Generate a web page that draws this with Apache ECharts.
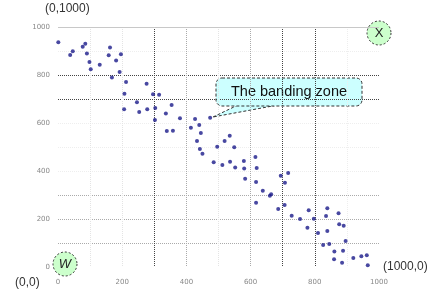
<!DOCTYPE html>
<html>
<head>
<meta charset="utf-8">
<script src="https://cdn.jsdelivr.net/npm/echarts@6/dist/echarts.min.js"></script>
<style>
  html, body { margin: 0; padding: 0; background: #fff; }
  #main { width: 436px; height: 297px; }
</style>
</head>
<body>
<div id="main"></div>
<script>
// scatter points
const xs = [1, 38, 46, 77, 85, 90, 98, 102, 130, 162, 158, 196, 181, 192, 168, 212, 207, 276, 296, 315,
  246, 253, 206, 278, 303, 354, 302, 336, 380, 339, 358, 427, 440, 414, 474, 445, 433, 442, 450, 496,
  535, 519, 549, 485, 512, 536, 552, 579, 580, 583, 615, 619, 617, 717, 694, 707, 638, 660, 664, 617,
  686, 706, 728, 754, 781, 797, 777, 810, 839, 835, 874, 839, 876, 890, 896, 826, 845, 861, 888, 860,
  885, 920, 945, 962, 965];
const ys = [936, 883, 899, 918, 930, 890, 854, 824, 843, 915, 882, 886, 860, 813, 790, 771, 722, 764, 720, 718,
  686, 646, 657, 657, 663, 675, 612, 640, 620, 567, 568, 617, 592, 580, 622, 558, 525, 492, 472, 501,
  547, 525, 499, 436, 425, 439, 415, 442, 410, 368, 458, 412, 354, 392, 380, 351, 318, 297, 303, 268,
  242, 258, 214, 200, 236, 201, 164, 142, 245, 213, 224, 150, 178, 172, 108, 92, 96, 65, 68, 32,
  18, 38, 45, 49, 7];
const tickLabels = ['0', '200', '400', '600', '800', '1000'];

// grid line shades for 0,100,...,1000
const xGridColors = ['transparent', '#e4e4e4', '#e4e4e4', '#444', '#aaa', '#e4e4e4', '#aaa', '#444', '#444', '#eee', 'transparent'];
const yGridColors = ['transparent', '#aaa', '#aaa', '#aaa', '#eee', '#eee', '#eee', '#444', '#444', '#eee', 'transparent'];

const points = xs.map((x, i) => [x, ys[i]]);

const labelFmt = v => (v % 200 === 0 ? tickLabels[v / 200] : '');

const chart = echarts.init(document.getElementById('main'));
chart.setOption({
  animation: false,
  grid: { left: 58, right: 57, top: 27, bottom: 30 },
  xAxis: {
    type: 'value', min: 0, max: 1000, interval: 100,
    axisLine: { show: false }, axisTick: { show: false },
    axisLabel: { formatter: labelFmt, fontSize: 7, color: '#888', margin: 12, fontFamily: 'DejaVu Sans' },
    splitLine: { lineStyle: { type: 'dotted', width: 1, color: xGridColors } }
  },
  yAxis: {
    type: 'value', min: 0, max: 1000, interval: 100,
    axisLine: { show: false }, axisTick: { show: false },
    axisLabel: { formatter: labelFmt, fontSize: 7, color: '#888', margin: 8, fontFamily: 'DejaVu Sans' },
    splitLine: { lineStyle: { type: 'dotted', width: 1, color: yGridColors } }
  },
  series: [{
    type: 'scatter',
    data: points,
    symbol: 'circle',
    symbolSize: 4,
    itemStyle: { color: '#1a1a8a' },
    markLine: {
      silent: true, symbol: 'none', label: { show: false },
      lineStyle: { type: 'solid', color: '#c8c8c8', width: 1 },
      data: [{ yAxis: 1000 }]
    }
  }],
  graphic: [
    { type: 'text', left: 45, top: 3, style: { text: '(0,1000)', font: '12px "Liberation Sans"', fill: '#333' } },
    { type: 'text', left: 15, top: 277, style: { text: '(0,0)', font: '12px "Liberation Sans"', fill: '#333' } },
    { type: 'text', left: 383, top: 261, style: { text: '(1000,0)', font: '12px "Liberation Sans"', fill: '#333' } },
    { type: 'circle', shape: { cx: 65, cy: 264, r: 12 }, style: { fill: '#ccffcc', stroke: '#333', lineWidth: 1, lineDash: [2, 2] } },
    { type: 'text', x: 65, y: 264, style: { text: 'W', font: 'italic 13px "Liberation Sans"', fill: '#222', align: 'center', verticalAlign: 'middle' } },
    { type: 'circle', shape: { cx: 379, cy: 33, r: 12 }, style: { fill: '#ccffcc', stroke: '#333', lineWidth: 1, lineDash: [2, 2] } },
    { type: 'text', x: 379, y: 33, style: { text: 'X', font: '13px "Liberation Sans"', fill: '#222', align: 'center', verticalAlign: 'middle' } },
    { type: 'polygon', shape: { points: [[213, 117], [238, 105], [278, 105]] }, style: { fill: '#ccffff', stroke: '#333', lineWidth: 1, lineDash: [3, 2] } },
    { type: 'rect', shape: { x: 216, y: 78, width: 146, height: 28, r: 6 }, style: { fill: '#ccffff', stroke: '#333', lineWidth: 1, lineDash: [3, 2] } },
    { type: 'rect', shape: { x: 237, y: 103, width: 42, height: 2 }, style: { fill: '#ccffff' } },
    { type: 'text', x: 289, y: 92, style: { text: 'The banding zone', font: '14.5px "Liberation Sans"', fill: '#111', align: 'center', verticalAlign: 'middle' } }
  ]
});
</script>
</body>
</html>
